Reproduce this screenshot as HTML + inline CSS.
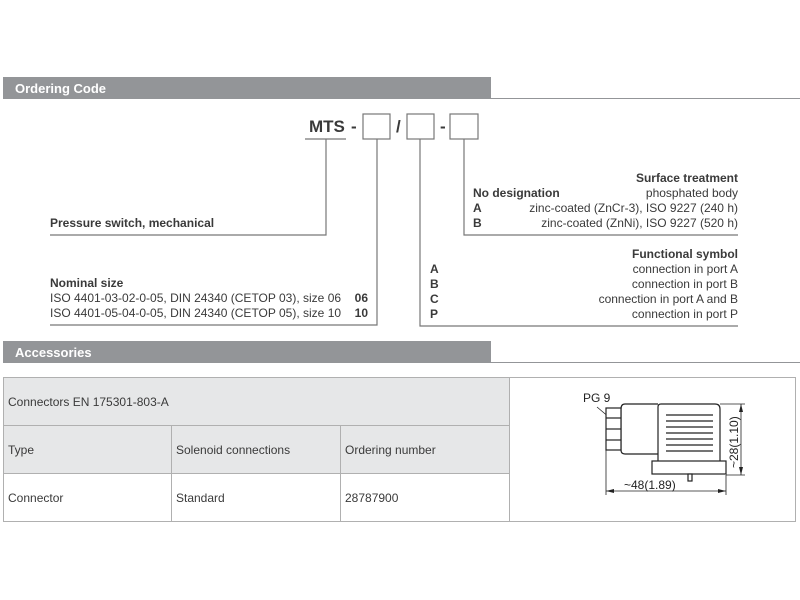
<!DOCTYPE html>
<html><head><meta charset="utf-8"><style>
html,body{margin:0;padding:0;background:#fff;width:800px;height:600px;overflow:hidden}
svg{display:block}
text{font-family:"Liberation Sans",sans-serif;fill:#3a3a3a}
.b{font-weight:bold}
.s{font-size:12px}
.r{text-anchor:end}
</style></head><body>
<svg width="800" height="600" viewBox="0 0 800 600" xmlns="http://www.w3.org/2000/svg">
<!-- headers -->
<rect x="3" y="77" width="488" height="22" fill="#939598"/>
<line x1="491" y1="98.5" x2="800" y2="98.5" stroke="#939598" stroke-width="1"/>
<text x="15" y="93" class="b" style="font-size:13px;fill:#fff">Ordering Code</text>
<rect x="3" y="341" width="488" height="22" fill="#939598"/>
<line x1="491" y1="362.5" x2="800" y2="362.5" stroke="#939598" stroke-width="1"/>
<text x="15" y="357" class="b" style="font-size:13px;fill:#fff">Accessories</text>

<!-- code -->
<text x="309" y="132" class="b" style="font-size:17px">MTS</text>
<text x="351" y="132" class="b" style="font-size:17px">-</text>
<text x="396" y="132" class="b" style="font-size:17px">/</text>
<text x="440" y="132" class="b" style="font-size:17px">-</text>
<g fill="none" stroke="#777" stroke-width="1.2">
<rect x="363" y="114" width="27" height="25"/>
<rect x="407" y="114" width="27" height="25"/>
<rect x="450" y="114" width="28" height="25"/>
<polyline points="305,139 346,139"/>
<polyline points="326,139 326,235 50,235"/>
<polyline points="377,139 377,325 50,325"/>
<polyline points="420,139 420,326 738,326"/>
<polyline points="464,139 464,235 738,235"/>
</g>

<g>
<text x="50" y="227" class="b s">Pressure switch, mechanical</text>
<text x="50" y="287" class="b s">Nominal size</text>
<text x="50" y="302" class="s">ISO 4401-03-02-0-05, DIN 24340 (CETOP 03), size 06</text>
<text x="50" y="317" class="s">ISO 4401-05-04-0-05, DIN 24340 (CETOP 05), size 10</text>
<text x="368" y="302" class="b s r">06</text>
<text x="368" y="317" class="b s r">10</text>

<text x="738" y="182" class="b s r">Surface treatment</text>
<text x="473" y="197" class="b s">No designation</text>
<text x="738" y="197" class="s r">phosphated body</text>
<text x="473" y="212" class="b s">A</text>
<text x="738" y="212" class="s r">zinc-coated (ZnCr-3), ISO 9227 (240 h)</text>
<text x="473" y="227" class="b s">B</text>
<text x="738" y="227" class="s r">zinc-coated (ZnNi), ISO 9227 (520 h)</text>

<text x="738" y="258" class="b s r">Functional symbol</text>
<text x="430" y="273" class="b s">A</text><text x="738" y="273" class="s r">connection in port A</text>
<text x="430" y="288" class="b s">B</text><text x="738" y="288" class="s r">connection in port B</text>
<text x="430" y="303" class="b s">C</text><text x="738" y="303" class="s r">connection in port A and B</text>
<text x="430" y="318" class="b s">P</text><text x="738" y="318" class="s r">connection in port P</text>
</g>

<!-- table -->
<rect x="3" y="377" width="506" height="96" fill="#e6e7e8"/>
<g stroke="#b0b0b0" stroke-width="1" fill="none">
<line x1="3" y1="377.5" x2="796" y2="377.5"/>
<line x1="3" y1="425.5" x2="509" y2="425.5"/>
<line x1="3" y1="473.5" x2="509" y2="473.5"/>
<line x1="3" y1="521.5" x2="796" y2="521.5"/>
<line x1="3.5" y1="377" x2="3.5" y2="521"/>
<line x1="171.5" y1="425" x2="171.5" y2="521"/>
<line x1="340.5" y1="425" x2="340.5" y2="521"/>
<line x1="509.5" y1="377" x2="509.5" y2="521"/>
<line x1="795.5" y1="377" x2="795.5" y2="521"/>
</g>
<g>
<text x="8" y="406" class="s">Connectors EN 175301-803-A</text>
<text x="8" y="454" class="s">Type</text>
<text x="176" y="454" class="s">Solenoid connections</text>
<text x="345" y="454" class="s">Ordering number</text>
<text x="8" y="502" class="s">Connector</text>
<text x="176" y="502" class="s">Standard</text>
<text x="345" y="502" class="s">28787900</text>
</g>

<!-- drawing -->
<g stroke="#222" stroke-width="1.2" fill="#fff">
<line x1="597" y1="407" x2="610" y2="418" stroke-width="0.8"/>
<path d="M658,404 H625 Q621,404 621,409 V450 Q621,454 625,454 H658"/>
<rect x="606" y="408" width="15" height="42"/>
<line x1="606" y1="418" x2="621" y2="418"/>
<line x1="606" y1="429" x2="621" y2="429"/>
<line x1="606" y1="440" x2="621" y2="440"/>
<path d="M658,461 V407 Q658,404 661,404 H715 Q720,404 720,409 V461"/>
<rect x="652" y="461" width="74" height="13"/>
<rect x="688" y="474" width="4" height="7"/>
</g>
<g stroke="#222" stroke-width="1.2">
<line x1="666" y1="415" x2="713" y2="415"/>
<line x1="666" y1="421" x2="713" y2="421"/>
<line x1="666" y1="427" x2="713" y2="427"/>
<line x1="666" y1="433" x2="713" y2="433"/>
<line x1="666" y1="439" x2="713" y2="439"/>
<line x1="666" y1="445" x2="713" y2="445"/>
<line x1="666" y1="451" x2="713" y2="451"/>
</g>
<g stroke="#222" stroke-width="0.8" fill="none">
<line x1="720" y1="404" x2="745" y2="404"/>
<line x1="726" y1="475" x2="745" y2="475"/>
<line x1="741" y1="404" x2="741" y2="475"/>
<line x1="606" y1="450" x2="606" y2="495"/>
<line x1="726" y1="475" x2="726" y2="495"/>
<line x1="606" y1="491" x2="726" y2="491"/>
</g>
<g fill="#222">
<path d="M741,404 l-2,8 h4z"/><path d="M741,475 l-2,-8 h4z"/>
<path d="M606,491 l8,-2 v4z"/><path d="M726,491 l-8,-2 v4z"/>
</g>
<text x="583" y="402" style="font-size:12px;fill:#222">PG 9</text>
<text x="624" y="489" style="font-size:12px;fill:#222">~48(1.89)</text>
<text transform="translate(738,468) rotate(-90)" style="font-size:12px;fill:#222">~28(1.10)</text>
</svg>
</body></html>
